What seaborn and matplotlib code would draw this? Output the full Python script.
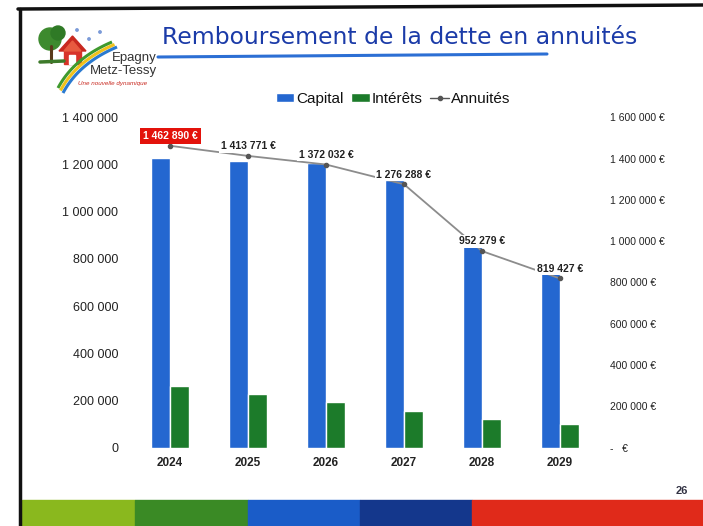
import numpy as np
import pandas as pd
import matplotlib
matplotlib.use('Agg')
import matplotlib.pyplot as plt
import seaborn as sns
from matplotlib.ticker import FuncFormatter, MultipleLocator
from matplotlib.patches import Rectangle, Circle, Polygon, Patch
from matplotlib.lines import Line2D

# données
annees = ['2024', '2025', '2026', '2027', '2028', '2029']
capital = [1228000, 1216000, 1209000, 1136000, 854000, 741000]
interets = [262000, 226000, 193000, 154000, 119000, 100000]
annuites = [1462890, 1413771, 1372032, 1276288, 952279, 819427]

BLEU = '#2467d0'
VERT = '#1c7b2a'
GRIS = '#8c8c8c'

df = pd.DataFrame({
    'annee': annees * 2,
    'montant': capital + interets,
    'type': ['Capital'] * len(annees) + ['Intérêts'] * len(annees),
})

sns.set_style('white')
plt.rcParams['font.family'] = ['Liberation Sans', 'DejaVu Sans']

W, H = 703, 526
fig = plt.figure(figsize=(W / 100, H / 100), dpi=100)
fig.patch.set_facecolor('white')

def fx(x):
    return x / W

def fy(y):
    return 1 - y / H

# graphique principal : barres capital / intérêts
ax = fig.add_axes([fx(131), fy(447.5), 468 / W, 330 / H])
sns.barplot(data=df, x='annee', y='montant', hue='type', palette=[BLEU, VERT],
            width=0.475, saturation=1, legend=False, ax=ax)
ax.set_xlim(-0.5, 5.5)
ax.set_ylim(0, 1400000)
ax.yaxis.set_major_locator(MultipleLocator(200000))
ax.yaxis.set_major_formatter(FuncFormatter(lambda v, p: f'{int(v):,}'.replace(',', ' ')))
ax.set_xlabel('')
ax.set_ylabel('')
sns.despine(ax=ax, left=True, bottom=True)
ax.tick_params(axis='both', length=0)
ax.tick_params(axis='y', pad=9, labelsize=9, labelcolor='#222222')
ax.tick_params(axis='x', pad=7, labelsize=8.5, labelcolor='#222222')

# axe secondaire : annuités
ax2 = ax.twinx()
sns.pointplot(x=annees, y=annuites, color=GRIS, markers='o', markersize=3,
              linewidth=1.3, errorbar=None, ax=ax2)
for ln in ax2.lines:
    ln.set_markerfacecolor('#555555')
    ln.set_markeredgecolor('#555555')
ax2.set_ylim(0, 1600000)
ax2.set_xlim(-0.5, 5.5)
ax2.yaxis.set_major_locator(MultipleLocator(200000))
ax2.yaxis.set_major_formatter(FuncFormatter(
    lambda v, p: '-   €' if v == 0 else f'{int(v):,} €'.replace(',', ' ')))
ax2.set_ylabel('')
sns.despine(ax=ax2, left=True, bottom=True, right=True)
ax2.tick_params(axis='both', length=0)
ax2.tick_params(axis='y', pad=8, labelsize=7.5, labelcolor='#222222')

for t in ax.get_xticklabels():
    t.set_fontweight('bold')

# étiquettes des annuités
for i, v in enumerate(annuites):
    txt = f'{v:,} €'.replace(',', ' ')
    if i == 0:
        ax2.annotate(txt, (i, v), xytext=(0, 7), textcoords='offset points',
                     ha='center', va='center', fontsize=7.5, fontweight='bold',
                     color='white',
                     bbox=dict(boxstyle='square,pad=0.3', fc='#e3120b', ec='none'))
    else:
        ax2.annotate(txt, (i, v), xytext=(0, 7), textcoords='offset points',
                     ha='center', va='center', fontsize=7.5, fontweight='bold',
                     color='#222222',
                     bbox=dict(boxstyle='square,pad=0.15', fc='white', ec='none'))

# légende
handles = [Patch(facecolor=BLEU), Patch(facecolor=VERT),
           Line2D([], [], color='#555555', marker='o', markersize=3, lw=1)]
fig.legend(handles, ['Capital', 'Intérêts', 'Annuités'], loc='center',
           bbox_to_anchor=(fx(393), fy(99)), ncol=3, frameon=False,
           fontsize=11, handlelength=1.2, handleheight=0.55,
           handletextpad=0.15, columnspacing=0.5, labelcolor='#111111')

# titre et soulignement
fig.text(fx(400), fy(38), 'Remboursement de la dette en annuités', ha='center',
         va='center', fontsize=16.9, color='#1b3ba8', family='DejaVu Sans')
fig.add_artist(Line2D([fx(158), fx(547)], [fy(57), fy(54)], color='#2c6fd4',
                      lw=2.2, transform=fig.transFigure))

# logo (approximatif), coordonnées en pixels
lax = fig.add_axes([fx(25), fy(100), 135 / W, 80 / H])
lax.set_xlim(25, 160)
lax.set_ylim(100, 20)
lax.axis('off')
t = np.linspace(0, 1, 40)
for k, c in enumerate(['#3f9a2e', '#f1c21b', '#2a7ad0']):
    d = k * 2.5
    xs = (1 - t) ** 2 * (58 + d) + 2 * (1 - t) * t * (74 + d) + t ** 2 * (112 + d)
    ys = (1 - t) ** 2 * (88 + d) + 2 * (1 - t) * t * (58 + d) + t ** 2 * (42 + d)
    lax.plot(xs, ys, color=c, lw=2.2, solid_capstyle='butt')
lax.plot([51, 51], [46, 62], color='#5a3a1a', lw=2.2)
lax.plot([40, 64], [62, 61], color='#3d7a2a', lw=2.5)
lax.add_patch(Circle((50, 39), 11, color='#3d8a2e'))
lax.add_patch(Circle((58, 33), 7, color='#2f7a26'))
lax.add_patch(Rectangle((64, 49), 17, 15, color='#d8332a'))
lax.add_patch(Polygon([[59, 51], [72.5, 36], [86, 51]], closed=True, color='#c8281f'))
lax.add_patch(Polygon([[64, 51], [72.5, 41], [81, 51]], closed=True, color='#e85a40'))
lax.add_patch(Rectangle((69, 55), 6, 9, color='white'))
for px, py in [(77, 30), (100, 32), (89, 39)]:
    lax.add_patch(Circle((px, py), 1.2, color='#7a9ad8'))
lax.text(157, 58, 'Epagny', ha='right', va='center', fontsize=9.5,
         color='#333333', stretch='condensed')
lax.text(157, 71, 'Metz-Tessy', ha='right', va='center', fontsize=9.5,
         color='#333333', stretch='condensed')
lax.text(113, 84, 'Une nouvelle dynamique', ha='center', va='center',
         fontsize=4.5, color='#c8281f', style='italic')

# cadre noir de la diapositive
fig.add_artist(Line2D([fx(18), fx(703)], [fy(9), fy(5)], color='#111111',
                      lw=2.5, transform=fig.transFigure))
fig.add_artist(Line2D([fx(20), fx(20)], [fy(9), fy(526)], color='#111111',
                      lw=2.5, transform=fig.transFigure))

# bandeau de couleurs en bas
bandes = [(22, 135, '#8ab81e'), (135, 248, '#3a8a25'), (248, 360, '#1a5cc8'),
          (360, 472, '#14378c'), (472, 703, '#e02a1a')]
for x0, x1, c in bandes:
    fig.add_artist(Rectangle((fx(x0), 0), (x1 - x0) / W, 26 / H, color=c,
                             transform=fig.transFigure))
fig.text(fx(682), fy(491), '26', ha='center', va='center', fontsize=8,
         fontweight='bold', color='#333344')

fig.savefig('out.png', dpi=100)
